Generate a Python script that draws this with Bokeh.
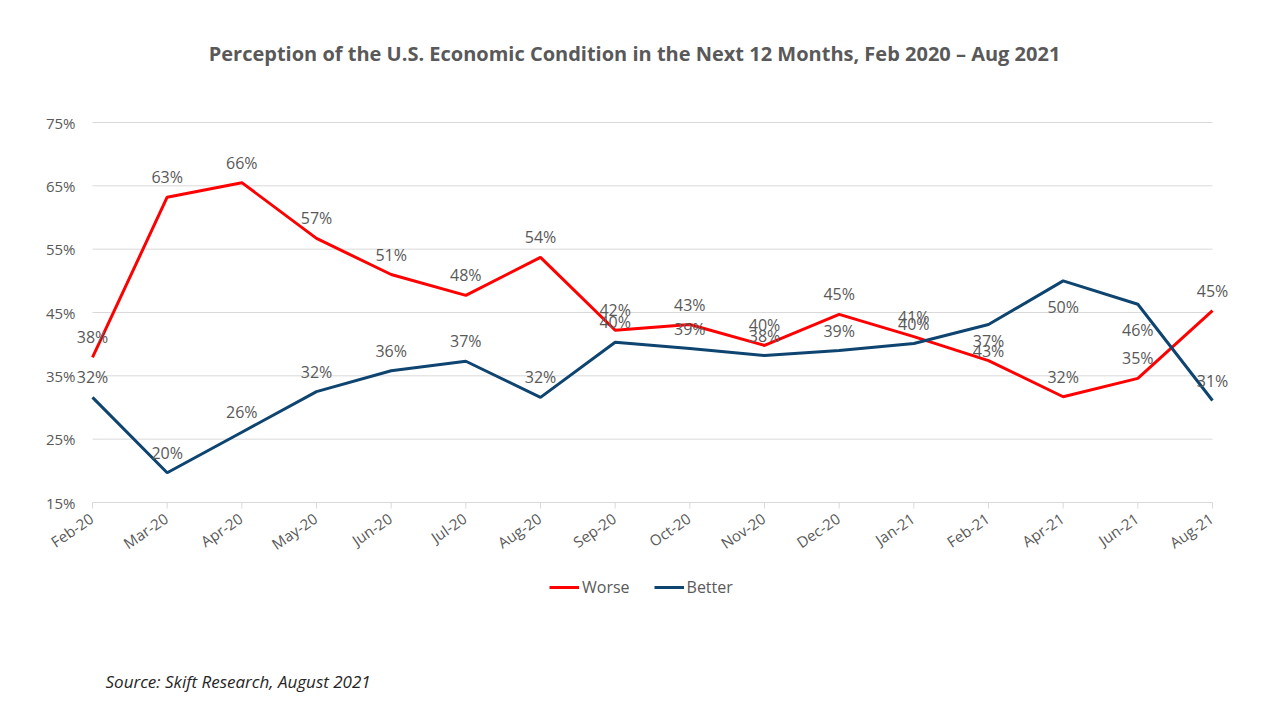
from bokeh.plotting import figure
from bokeh.models import ColumnDataSource, Legend, LegendItem, Range1d, Label
from bokeh.core.properties import value
from bokeh.embed import file_html
from bokeh.resources import INLINE

months = ['Feb-20', 'Mar-20', 'Apr-20', 'May-20', 'Jun-20', 'Jul-20', 'Aug-20', 'Sep-20',
          'Oct-20', 'Nov-20', 'Dec-20', 'Jan-21', 'Feb-21', 'Apr-21', 'Jun-21', 'Aug-21']
worse = [37.9, 63.2, 65.5, 56.7, 51.0, 47.7, 53.7, 42.2, 43.1, 39.8, 44.7, 41.2, 37.4, 31.7, 34.6, 45.3]
better = [31.6, 19.7, 26.1, 32.5, 35.8, 37.3, 31.6, 40.3, 39.3, 38.2, 39.0, 40.1, 43.1, 50.0, 46.3, 31.1]
y_ticks = [15, 25, 35, 45, 55, 65, 75]

FONT = "Open Sans"
TXT = "#595959"
RED = "#FF0000"
BLUE = "#0E4470"
GRID = "#D9D9D9"

W, H = 1264, 704
# plot area in canvas pixels (left, right, top, bottom)
PL, PR, PT, PB = 92, 1212, 122, 502

x = list(range(len(months)))
last = len(months) - 1
ymin, ymax = y_ticks[0], y_ticks[-1]
ppx = (PR - PL) / last
ppy = (PB - PT) / (ymax - ymin)

# the frame covers the whole canvas so nothing gets clipped; ranges map the plot area
p = figure(width=W, height=H, output_backend="svg", toolbar_location=None,
           x_range=Range1d(-PL / ppx, last + (W - PR) / ppx),
           y_range=Range1d(ymin - (H - PB) / ppy, ymax + PT / ppy),
           min_border=0)
p.axis.visible = False
p.grid.visible = False
p.outline_line_color = None

# gridlines and y labels
p.segment(x0=[0] * len(y_ticks), y0=y_ticks, x1=[last] * len(y_ticks), y1=y_ticks,
          line_color=GRID, line_width=1)
p.text(x=[0] * len(y_ticks), y=y_ticks, text=[f"{t}%" for t in y_ticks],
       text_align="right", text_baseline="middle", x_offset=-17,
       text_font=value(FONT), text_font_size="15px", text_color=TXT)

# category ticks and rotated labels
p.segment(x0=x, y0=[ymin] * len(x), x1=x, y1=[ymin - 6 / ppy] * len(x),
          line_color=GRID, line_width=1)
p.text(x=x, y=[ymin] * len(x), text=months, angle=0.6,
       text_align="right", text_baseline="middle", x_offset=-1, y_offset=14,
       text_font=value(FONT), text_font_size="15px", text_color=TXT)

# lines
r_worse = p.line(x, worse, line_color=RED, line_width=3)
r_better = p.line(x, better, line_color=BLUE, line_width=3)

# data labels: worse always above, better below where it sits above worse
lab = dict(text_align="center", text_font=value(FONT), text_font_size="16px", text_color=TXT)
src_w = ColumnDataSource(dict(x=x, y=worse, t=[f"{round(v)}%" for v in worse]))
p.text('x', 'y', text='t', source=src_w, text_baseline="bottom", y_offset=-9, **lab)

above = [b <= w for b, w in zip(better, worse)]
ia = [i for i in x if above[i]]
ib = [i for i in x if not above[i]]
src_ba = ColumnDataSource(dict(x=ia, y=[better[i] for i in ia], t=[f"{round(better[i])}%" for i in ia]))
src_bb = ColumnDataSource(dict(x=ib, y=[better[i] for i in ib], t=[f"{round(better[i])}%" for i in ib]))
p.text('x', 'y', text='t', source=src_ba, text_baseline="bottom", y_offset=-9, **lab)
p.text('x', 'y', text='t', source=src_bb, text_baseline="top", y_offset=15, **lab)

# legend
legend = Legend(items=[LegendItem(label="Worse", renderers=[r_worse]),
                       LegendItem(label="Better", renderers=[r_better])],
                orientation="horizontal", location=(549, H - 598))
legend.border_line_color = None
legend.background_fill_alpha = 0
legend.label_text_font = FONT
legend.label_text_font_size = "16px"
legend.label_text_color = TXT
legend.glyph_width = 30
legend.spacing = 24
legend.padding = 0
legend.margin = 0
legend.label_standoff = 3
p.add_layout(legend)

# title and source
p.add_layout(Label(x=634, y=H - 53, x_units="screen", y_units="screen",
                   text="Perception of the U.S. Economic Condition in the Next 12 Months, Feb 2020 \u2013 Aug 2021",
                   text_align="center", text_baseline="middle", text_font=FONT,
                   text_font_size="20px", text_font_style="bold", text_color=TXT))
p.add_layout(Label(x=105, y=H - 681, x_units="screen", y_units="screen",
                   text="Source: Skift Research, August 2021",
                   text_align="left", text_baseline="middle", text_font=FONT,
                   text_font_size="17px", text_font_style="italic", text_color="#262626"))

open("out.html", "w").write(file_html(p, INLINE))
